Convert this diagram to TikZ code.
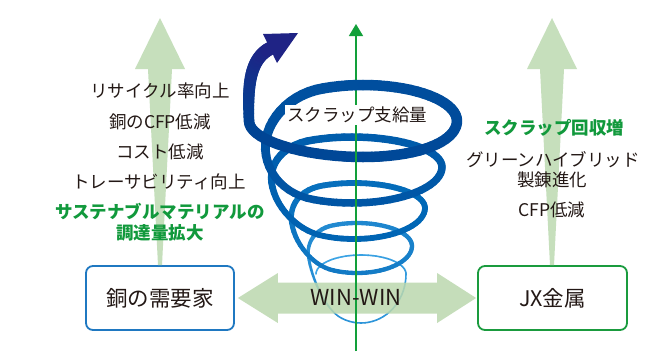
\documentclass[tikz,border=0pt]{standalone}
\usepackage{fontspec}
\newfontfamily\jp{Noto Sans CJK JP}
\usetikzlibrary{arrows.meta,calc}

\definecolor{ink}{HTML}{231815}
\definecolor{leaf}{HTML}{11993C}
\definecolor{pale}{HTML}{C6DFBC}
\definecolor{barfill}{HTML}{BBD8AE}
\definecolor{axisgreen}{HTML}{12A03A}
\definecolor{boxblue}{HTML}{1F78C1}
\definecolor{boxgreen}{HTML}{1A9B3E}
\definecolor{hel0}{HTML}{004494}
\definecolor{hel1}{HTML}{0068B7}
\definecolor{hel2}{HTML}{40A8E8}
\definecolor{indigo}{HTML}{1F2385}

\tikzset{
  box/.style={draw, fill=white, rounded corners=7pt, line width=1.8pt,
    minimum height=64pt, text=ink, font=\jp\fontsize{21.5}{24}\selectfont},
  lbl/.style={inner sep=0pt, text=ink, font=\jp\fontsize{17.5}{20}\selectfont},
  glbl/.style={inner sep=0pt, text=leaf, font=\jp\bfseries\fontsize{17.5}{20}\selectfont},
  axisline/.style={axisgreen, line width=1.4pt},
}

\begin{document}
\begin{tikzpicture}[x=1pt, y=-1pt,
  declare function={
    clp(\u)=min(1,max(0,\u));
    ss(\u)=clp(\u)*clp(\u)*(3-2*clp(\u));
    bl(\q,\j)=ss((\q-\j-0.825)/0.35);
    cx(\q)=363-11*bl(\q,0)+2*bl(\q,1)+3*bl(\q,2)+4*bl(\q,3);
    cy(\q)=121+46*bl(\q,0)+41*bl(\q,1)+38*bl(\q,2)+28*bl(\q,3);
    rx(\q)=94-4*bl(\q,0)-19*bl(\q,1)-16*bl(\q,2)-10*bl(\q,3)+20*(1-ss(2*\q));
    ra(\q)=36-3*bl(\q,0)-5*bl(\q,1)-3*bl(\q,2)+9*bl(\q,3);
    rb(\q)=3*bl(\q,0)-1*bl(\q,2)+13*bl(\q,3);
    lw(\q)=10.5-3*bl(\q,0)-1.7*bl(\q,1)-1.5*bl(\q,2)-2.7*bl(\q,3);
    hx(\q)=cx(\q)-rx(\q)*cos(360*\q);
    hy(\q)=cy(\q)+ra(\q)*sin(360*\q)+rb(\q)*abs(sin(360*\q));
    bz(\u,\a,\b,\c,\d)=(1-\u)*(1-\u)*(1-\u)*\a+3*(1-\u)*(1-\u)*\u*\b+3*(1-\u)*\u*\u*\c+\u*\u*\u*\d;
  }]
\useasboundingbox (0,0) rectangle (668,351);
\fill[white] (0,0) rectangle (668,351);

% the two parties
\node[box, draw=boxblue, minimum width=148pt] (lbox) at (160,298) {銅の需要家};
\node[box, draw=boxgreen, minimum width=149pt] (rbox) at (552.5,298) {JX金属};

% rising pale arrows above each party
\coordinate (ltip) at (160,18);
\coordinate (rtip) at (552,18);
\fill[pale] ($(lbox.north)+(-2,0)$) -- ($(ltip)+(-12,51)$) -- ($(ltip)+(-25,51)$) -- (ltip)
  -- ($(ltip)+(25,51)$) -- ($(ltip)+(12,51)$) -- ($(lbox.north)+(2,0)$) -- cycle;
\fill[pale] ($(rbox.north)+(-2.5,0)$) -- ($(rtip)+(-12,51)$) -- ($(rtip)+(-25,51)$) -- (rtip)
  -- ($(rtip)+(25,51)$) -- ($(rtip)+(12,51)$) -- ($(rbox.north)+(1.5,0)$) -- cycle;

% central axis (its upper part stays behind the top loop)
\coordinate (axb) at (356,351);
\coordinate (axm) at (356,96);
\coordinate (axt) at (356,24);
\draw[axisline, -{Triangle[width=14pt,length=12pt]}] (axb) -- (axt);

% helix: back halves first, then front halves, bottom loop to top loop
\foreach \pass in {0,1}{%
  \pgfmathsetmacro\sx{hx(5)}%
  \pgfmathsetmacro\sy{hy(5)}%
  \xdef\prevx{\sx}\xdef\prevy{\sy}%
  \foreach \k in {359,358,...,0}{%
    \pgfmathsetmacro\tc{\k/72}%
    \pgfmathsetmacro\nx{hx(\tc)}%
    \pgfmathsetmacro\ny{hy(\tc)}%
    \pgfmathsetmacro\tm{(\k+0.5)/72}%
    \pgfmathtruncatemacro\side{sin(360*\tm)<0 ? 0 : 1}%
    \ifnum\side=\pass\relax
      \pgfmathsetmacro\wd{lw(\tm)}%
      \pgfmathtruncatemacro\pa{min(100,\tm*40)}%
      \pgfmathtruncatemacro\pb{max(0,(\tm-2.5)*40)}%
      \colorlet{segA}{hel1!\pa!hel0}%
      \colorlet{segB}{hel2!\pb!segA}%
      \draw[line width=\wd pt, color=segB, line cap=round] (\prevx,\prevy) -- (\nx,\ny);%
    \fi
    \xdef\prevx{\nx}\xdef\prevy{\ny}%
  }%
}

% the helix leaves the top loop and turns upward into an arrow
\xdef\prevx{249}\xdef\prevy{121}%
\foreach \k in {1,...,24}{%
  \pgfmathsetmacro\u{\k/24}%
  \pgfmathsetmacro\nx{bz(\u,249,248,248,270)}%
  \pgfmathsetmacro\ny{bz(\u,121,90,60,48.5)}%
  \pgfmathsetmacro\wd{10.5+3*\u}%
  \pgfmathtruncatemacro\pc{100*\u}%
  \colorlet{segA}{indigo!\pc!hel0}%
  \draw[line width=\wd pt, color=segA, line cap=round] (\prevx,\prevy) -- (\nx,\ny);%
  \xdef\prevx{\nx}\xdef\prevy{\ny}%
}
\fill[indigo] (263,34) -- (298,33) -- (277,63) -- cycle;

% two-way arrow between the parties
\coordinate (bl) at ($(lbox.east)+(3,0)$);
\coordinate (br) at ($(rbox.west)+(-1,0)$);
\fill[barfill, fill opacity=0.85] (bl) -- ($(bl)+(40,-25)$) -- ($(bl)+(40,-15.5)$)
  -- ($(br)+(-39,-15.5)$) -- ($(br)+(-39,-25)$) -- (br) -- ($(br)+(-39,25)$)
  -- ($(br)+(-39,15.5)$) -- ($(bl)+(40,15.5)$) -- ($(bl)+(40,25)$) -- cycle;

% lower part of the axis runs in front of the loops and the bar
\draw[axisline] (axb) -- (axm);

% labels
\node[lbl] (win) at (356,297) {\fontsize{22}{24}\selectfont WIN-WIN};
\node[lbl, fill=white, inner sep=2pt] (supply) at (357,115) {スクラップ支給量};

\node[lbl] (l1) at (160,91) {リサイクル率向上};
\node[lbl] (l2) at (160,122) {銅のCFP低減};
\node[lbl] (l3) at (160,152) {コスト低減};
\node[lbl] (l4) at (159,182) {トレーサビリティ向上};
\node[glbl] (l5) at (160,212) {サステナブルマテリアルの};
\node[glbl] (l6) at (160,233) {調達量拡大};

\node[glbl] (r1) at (554,128) {スクラップ回収増};
\node[lbl] (r2) at (553,160) {グリーンハイブリッド};
\node[lbl] (r3) at (552,180) {製錬進化};
\node[lbl] (r4) at (552,210) {CFP低減};
\end{tikzpicture}
\end{document}
